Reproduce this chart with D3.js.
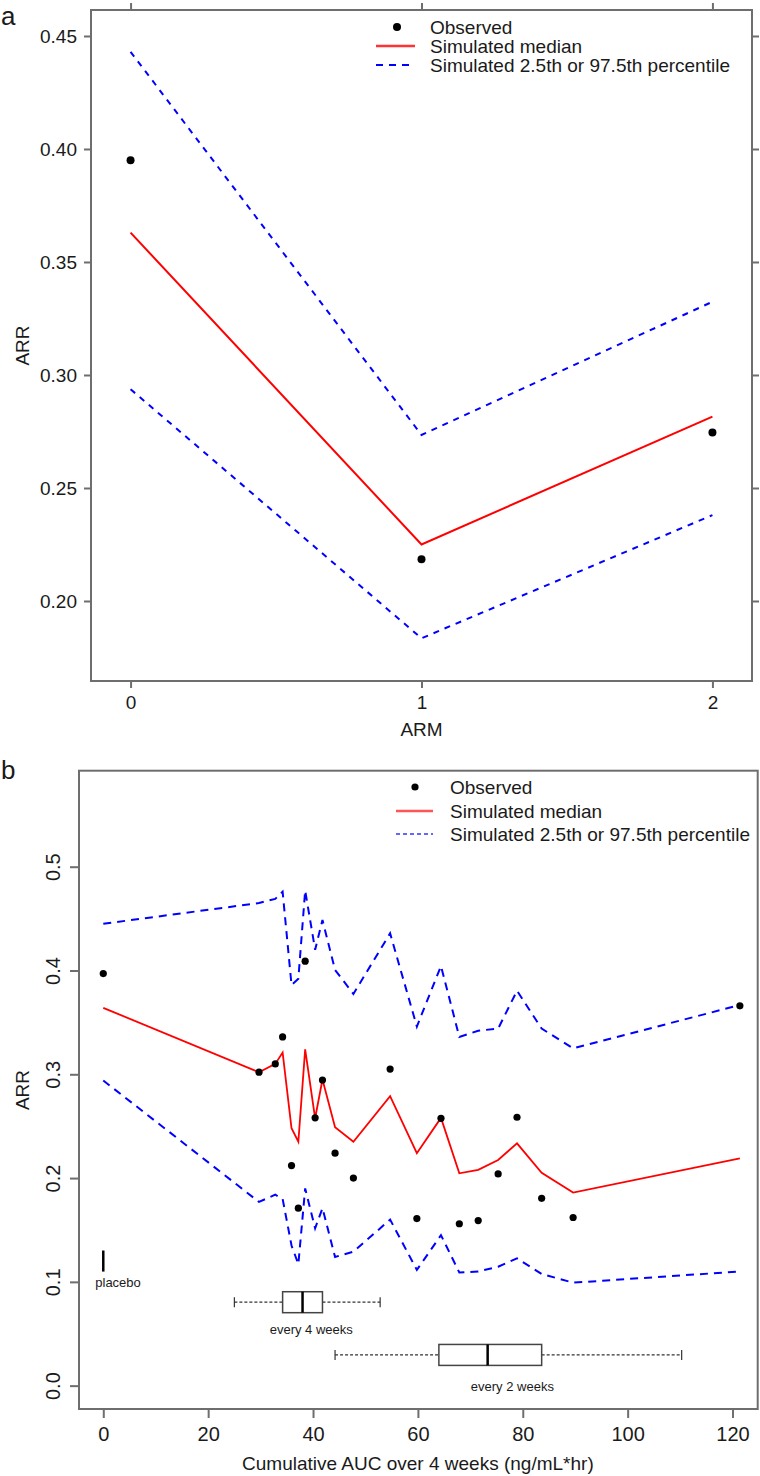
<!DOCTYPE html>
<html>
<head>
<meta charset="utf-8">
<script src="https://d3js.org/d3.v7.min.js"></script>
<style>
  html, body { margin: 0; padding: 0; background: #fff; }
  svg { display: block; }
  text { font-family: "Liberation Sans", Arial, sans-serif; fill: #1a1a1a; }
</style>
</head>
<body>
<script>
// ---------------- Panel a data ----------------
const armX = [0, 1, 2];
const armObserved = [0.395, 0.2185, 0.2745];
const armMedian = [0.363, 0.225, 0.2816];
const armUpper = [0.443, 0.2735, 0.3324];
const armLower = [0.2937, 0.1835, 0.238];
const armXTicks = [0, 1, 2];
const armYTicks = [0.20, 0.25, 0.30, 0.35, 0.40, 0.45];

// ---------------- Panel b data ----------------
const aucX = [0, 29.7, 32.8, 34.2, 35.9, 37.2, 38.5, 40.4, 41.8, 44.2, 47.7, 54.7, 59.8, 64.4, 67.9, 71.5, 75.3, 78.9, 83.6, 89.6, 121.4];
const aucObserved = [0.397, 0.302, 0.310, 0.336, 0.212, 0.171, 0.409, 0.258, 0.2945, 0.224, 0.200, 0.305, 0.161, 0.2576, 0.156, 0.159, 0.204, 0.2586, 0.1805, 0.162, 0.366];
const aucMedian = [0.364, 0.302, 0.310, 0.321, 0.248, 0.235, 0.324, 0.2576, 0.295, 0.249, 0.235, 0.279, 0.224, 0.258, 0.2046, 0.208, 0.2174, 0.2335, 0.205, 0.186, 0.219];
const aucUpper = [0.445, 0.465, 0.469, 0.476, 0.386, 0.392, 0.477, 0.420, 0.4486, 0.4005, 0.3774, 0.4358, 0.346, 0.4043, 0.336, 0.342, 0.344, 0.3805, 0.344, 0.325, 0.3667];
const aucLower = [0.294, 0.177, 0.184, 0.180, 0.135, 0.117, 0.190, 0.1516, 0.171, 0.124, 0.129, 0.160, 0.1115, 0.145, 0.109, 0.110, 0.1146, 0.1227, 0.1076, 0.0992, 0.110];
const aucXTicks = [0, 20, 40, 60, 80, 100, 120];
const aucYTicks = [0.0, 0.1, 0.2, 0.3, 0.4, 0.5];

// exposure box plots (AUC)
const boxLabels = ["every 4 weeks", "every 2 weeks"];
const boxMin = [25.0, 44.2];
const boxQ1 = [34.2, 64.0];
const boxMedian = [38.0, 73.3];
const boxQ3 = [41.8, 83.6];
const boxMax = [52.8, 110.3];
const placeboAUC = 0;

const legendLabels = ["Observed", "Simulated median", "Simulated 2.5th or 97.5th percentile"];

// ---------------- Layout ----------------
const W = 760, H = 1476;
const FONT = 19;
const frameColor = "#6e6e6e";

const svg = d3.select("body").append("svg").attr("width", W).attr("height", H);

function styleAxis(g) {
  g.select(".domain").remove();
  g.selectAll(".tick line").attr("stroke", frameColor).attr("stroke-width", 2);
  g.selectAll(".tick text").style("font-size", FONT + "px").attr("fill", "#1a1a1a");
}

// ================= Panel a =================
const ax = d3.scaleLinear().domain([-0.136, 2.136]).range([91, 752]);
const ay = d3.scaleLinear().domain([0.1646, 0.4615]).range([681, 10]);
const A = svg.append("g");

A.append("g").attr("transform", `translate(0,681)`)
  .call(d3.axisBottom(ax).tickValues(armXTicks).tickFormat(d3.format("d")).tickSize(7).tickPadding(8))
  .call(styleAxis);
A.append("g").attr("transform", `translate(0,10)`)
  .call(d3.axisTop(ax).tickValues(armXTicks).tickFormat("").tickSize(7))
  .call(styleAxis);
A.append("g").attr("transform", `translate(91,0)`)
  .call(d3.axisLeft(ay).tickValues(armYTicks).tickFormat(d3.format(".2f")).tickSize(7).tickPadding(7))
  .call(styleAxis);
A.append("g").attr("transform", `translate(752,0)`)
  .call(d3.axisRight(ay).tickValues(armYTicks).tickFormat("").tickSize(7))
  .call(styleAxis);

A.append("rect").attr("x", 91).attr("y", 10).attr("width", 752 - 91).attr("height", 681 - 10)
  .attr("fill", "none").attr("stroke", frameColor).attr("stroke-width", 2);

const lineA = (vals) => d3.line().x((d, i) => ax(armX[i])).y(d => ay(d))(vals);
A.append("path").attr("d", lineA(armUpper)).attr("fill", "none").attr("stroke", "#0000ff")
  .attr("stroke-width", 2).attr("stroke-dasharray", "6,6");
A.append("path").attr("d", lineA(armLower)).attr("fill", "none").attr("stroke", "#0000ff")
  .attr("stroke-width", 2).attr("stroke-dasharray", "6,6");
A.append("path").attr("d", lineA(armMedian)).attr("fill", "none").attr("stroke", "#ff0000")
  .attr("stroke-width", 2);
A.selectAll("circle.obs").data(armObserved).enter().append("circle")
  .attr("cx", (d, i) => ax(armX[i])).attr("cy", d => ay(d)).attr("r", 4).attr("fill", "#000");

// legend a
A.append("circle").attr("cx", 397).attr("cy", 27).attr("r", 4).attr("fill", "#000");
A.append("line").attr("x1", 376).attr("x2", 415).attr("y1", 46).attr("y2", 46)
  .attr("stroke", "#ff3333").attr("stroke-width", 2.5);
A.append("line").attr("x1", 376).attr("x2", 415).attr("y1", 65).attr("y2", 65)
  .attr("stroke", "#0000ff").attr("stroke-width", 2).attr("stroke-dasharray", "7,6");
A.selectAll("text.leg").data(legendLabels).enter().append("text")
  .attr("x", 430).attr("y", (d, i) => 27 + i * 19).attr("dy", "0.36em")
  .style("font-size", FONT + "px").text(d => d);

// axis titles a
A.append("text").attr("x", ax(1)).attr("y", 736).attr("text-anchor", "middle")
  .style("font-size", FONT + "px").text("ARM");
A.append("text").attr("transform", `translate(29,${(10 + 681) / 2}) rotate(-90)`)
  .attr("text-anchor", "middle").style("font-size", FONT + "px").text("ARR");
A.append("text").attr("x", 1).attr("y", 25).style("font-size", "26px").text("a");

// ================= Panel b =================
const bx = d3.scaleLinear().domain([-4.63, 124.8]).range([79, 757.7]);
const by = d3.scaleLinear().domain([-0.0225, 0.5925]).range([1409, 770.7]);
const B = svg.append("g");

B.append("g").attr("transform", `translate(0,1409)`)
  .call(d3.axisBottom(bx).tickValues(aucXTicks).tickFormat(d3.format("d")).tickSize(9).tickPadding(9))
  .call(styleAxis)
  .call(g => g.selectAll(".tick text").style("font-size", "20px"));
B.append("g").attr("transform", `translate(79,0)`)
  .call(d3.axisLeft(by).tickValues(aucYTicks).tickFormat(d3.format(".1f")).tickSize(9))
  .call(styleAxis)
  .call(g => g.selectAll(".tick text")
    .attr("x", 0).attr("dy", null)
    .attr("transform", "translate(-26,0) rotate(-90)")
    .attr("text-anchor", "middle").attr("dominant-baseline", "central")
    .style("font-size", "20px"));

B.append("rect").attr("x", 79).attr("y", 770.7).attr("width", 757.7 - 79).attr("height", 1409 - 770.7)
  .attr("fill", "none").attr("stroke", frameColor).attr("stroke-width", 2);

const lineB = (vals) => d3.line().x((d, i) => bx(aucX[i])).y(d => by(d))(vals);
B.append("path").attr("d", lineB(aucUpper)).attr("fill", "none").attr("stroke", "#0000ff")
  .attr("stroke-width", 2).attr("stroke-dasharray", "8,6");
B.append("path").attr("d", lineB(aucLower)).attr("fill", "none").attr("stroke", "#0000ff")
  .attr("stroke-width", 2).attr("stroke-dasharray", "8,6");
B.append("path").attr("d", lineB(aucMedian)).attr("fill", "none").attr("stroke", "#ff0000")
  .attr("stroke-width", 1.8);
B.selectAll("circle.obs").data(aucObserved).enter().append("circle")
  .attr("cx", (d, i) => bx(aucX[i])).attr("cy", d => by(d)).attr("r", 3.6).attr("fill", "#000");

// placebo marker
B.append("line").attr("x1", bx(placeboAUC)).attr("x2", bx(placeboAUC))
  .attr("y1", by(0.1302)).attr("y2", by(0.1099)).attr("stroke", "#000").attr("stroke-width", 2.5);
B.append("text").attr("x", bx(placeboAUC) - 8).attr("y", by(0.0992)).attr("dominant-baseline", "central")
  .style("font-size", "13px").attr("fill", "#333").text("placebo");

// box plots
const boxCenter = [0.0804, 0.0296];
const boxHalf = 0.0101;
const boxLabelY = [0.0537, -0.001];
boxLabels.forEach((lab, i) => {
  const cy = by(boxCenter[i]);
  const top = by(boxCenter[i] + boxHalf), bot = by(boxCenter[i] - boxHalf);
  const g = B.append("g");
  g.append("line").attr("x1", bx(boxMin[i])).attr("x2", bx(boxQ1[i])).attr("y1", cy).attr("y2", cy)
    .attr("stroke", "#333").attr("stroke-width", 1.2).attr("stroke-dasharray", "3,2");
  g.append("line").attr("x1", bx(boxQ3[i])).attr("x2", bx(boxMax[i])).attr("y1", cy).attr("y2", cy)
    .attr("stroke", "#333").attr("stroke-width", 1.2).attr("stroke-dasharray", "3,2");
  [boxMin[i], boxMax[i]].forEach(v => {
    g.append("line").attr("x1", bx(v)).attr("x2", bx(v)).attr("y1", cy - 5).attr("y2", cy + 5)
      .attr("stroke", "#333").attr("stroke-width", 1.2);
  });
  g.append("rect").attr("x", bx(boxQ1[i])).attr("y", top)
    .attr("width", bx(boxQ3[i]) - bx(boxQ1[i])).attr("height", bot - top)
    .attr("fill", "#fff").attr("stroke", "#444").attr("stroke-width", 1.5);
  g.append("line").attr("x1", bx(boxMedian[i])).attr("x2", bx(boxMedian[i])).attr("y1", top).attr("y2", bot)
    .attr("stroke", "#000").attr("stroke-width", 2.5);
  g.append("text").attr("x", bx((boxMin[i] + boxMax[i]) / 2) + 4).attr("y", by(boxLabelY[i]))
    .attr("text-anchor", "middle").attr("dominant-baseline", "central")
    .style("font-size", "13px").attr("fill", "#333").text(lab);
});

// legend b
B.append("circle").attr("cx", 415).attr("cy", 787).attr("r", 3.6).attr("fill", "#000");
B.append("line").attr("x1", 396).attr("x2", 433).attr("y1", 811).attr("y2", 811)
  .attr("stroke", "#ff5555").attr("stroke-width", 2.5);
B.append("line").attr("x1", 396).attr("x2", 433).attr("y1", 834).attr("y2", 834)
  .attr("stroke", "#3333ff").attr("stroke-width", 1.5).attr("stroke-dasharray", "4,3");
B.selectAll("text.leg").data(legendLabels).enter().append("text")
  .attr("x", 450).attr("y", (d, i) => 787 + i * 23.7).attr("dy", "0.36em")
  .style("font-size", FONT + "px").text(d => d);

// axis titles b
B.append("text").attr("x", bx(60)).attr("y", 1470).attr("text-anchor", "middle")
  .style("font-size", FONT + "px").text("Cumulative AUC over 4 weeks (ng/mL*hr)");
B.append("text").attr("transform", `translate(29,1090) rotate(-90)`)
  .attr("text-anchor", "middle").style("font-size", FONT + "px").text("ARR");
B.append("text").attr("x", 1).attr("y", 779).style("font-size", "26px").text("b");
</script>
</body>
</html>
